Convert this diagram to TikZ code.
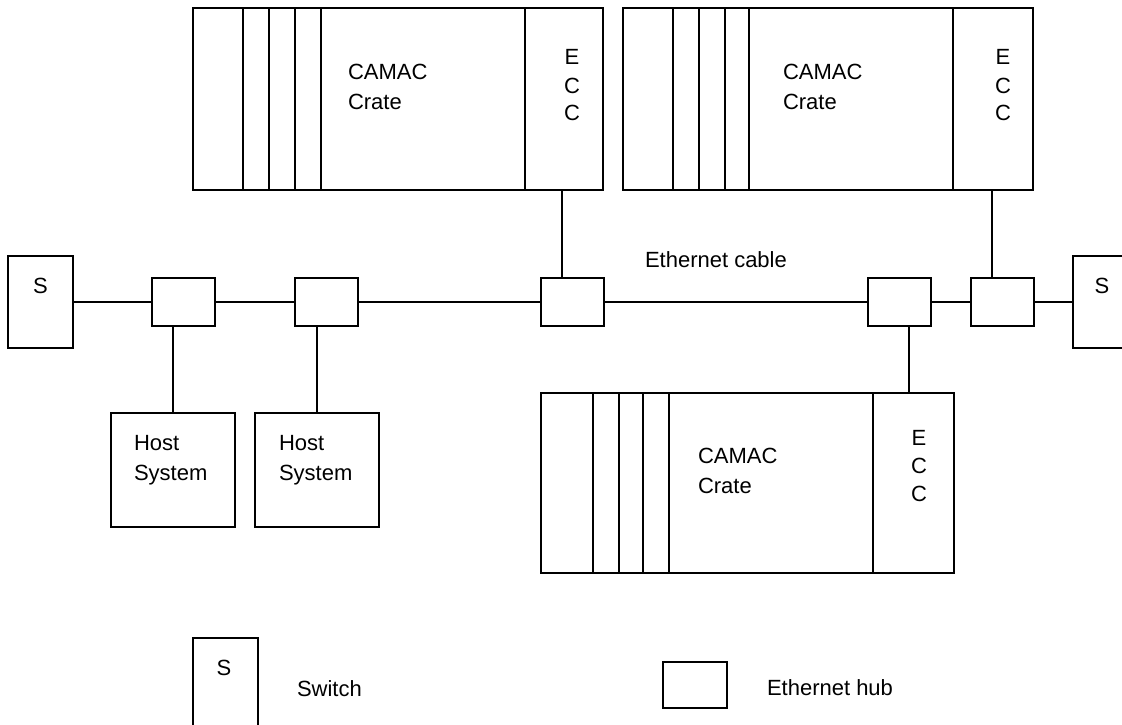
\documentclass[tikz,border=0pt]{standalone}
\usepackage{fontspec}
\setmainfont{Liberation Sans}
\begin{document}
\begin{tikzpicture}[x=1pt,y=-1pt,line width=2pt,
  base/.style={draw,rectangle,inner sep=0pt,outer sep=0pt},
  hubbox/.style={base,minimum width=63pt,minimum height=48pt},
  switchbox/.style={base,minimum width=65pt,minimum height=92pt},
  hostbox/.style={base,minimum width=124pt,minimum height=114pt},
  cratebox/.style={base,minimum width=#1,minimum height=182pt},
  lbl/.style={font=\fontsize{22}{26}\selectfont,inner sep=0pt,anchor=base west},
  lblc/.style={lbl,anchor=base}]
\useasboundingbox (0,0) rectangle (1122,725);

% crates
\node[cratebox=410pt] (c1) at (398,99) {};
\node[cratebox=410pt] (c2) at (828,99) {};
\node[cratebox=413pt,minimum height=180pt] (c3) at (747.5,483) {};
\foreach \d in {50,76,102,128,332}
  \draw ([xshift=\d pt]c1.north west) -- ([xshift=\d pt]c1.south west);
\foreach \d in {50,76,102,126,330}
  \draw ([xshift=\d pt]c2.north west) -- ([xshift=\d pt]c2.south west);
\foreach \d in {52,78,102,128,332}
  \draw ([xshift=\d pt]c3.north west) -- ([xshift=\d pt]c3.south west);

\node[lbl] (c1a) at (347,80) {CAMAC};
\node[lbl] (c1b) at (347,110) {Crate};
\node[lblc] (c1e) at (572,65) {E};
\node[lblc] (c1f) at (572,93) {C};
\node[lblc] (c1g) at (572,121) {C};

\node[lbl] (c2a) at (782,80) {CAMAC};
\node[lbl] (c2b) at (782,110) {Crate};
\node[lblc] (c2e) at (1003,65) {E};
\node[lblc] (c2f) at (1003,93) {C};
\node[lblc] (c2g) at (1003,121) {C};

\node[lbl] (c3a) at (697,463) {CAMAC};
\node[lbl] (c3b) at (697,493) {Crate};
\node[lblc] (c3e) at (919,445) {E};
\node[lblc] (c3f) at (919,473) {C};
\node[lblc] (c3g) at (919,501) {C};

% switches and hubs
\node[switchbox] (sl) at (40.5,302) {};
\node[lblc] (slt) at (40.5,293) {S};
\node[switchbox] (sr) at (1105.5,302) {};
\node[lblc] (srt) at (1102,293) {S};
\node[hubbox] (h1) at (183,302) {};
\node[hubbox] (h2) at (326,302) {};
\node[hubbox] (h3) at (572,302) {};
\node[hubbox] (h4) at (899,302) {};
\node[hubbox] (h5) at (1002.5,302) {};

\draw (sl.east) -- (h1.west);
\draw (h1.east) -- (h2.west);
\draw (h2.east) -- (h3.west);
\draw (h3.east) -- (h4.west);
\draw (h4.east) -- (h5.west);
\draw (h5.east) -- (sr.west);

\node[lbl] (cab) at (644,267) {Ethernet cable};

% hosts
\node[hostbox] (host1) at (173,470) {};
\node[hostbox] (host2) at (317,470) {};
\node[lbl] (ht1) at (133,450) {Host};
\node[lbl] (hs1) at (133,480) {System};
\node[lbl] (ht2) at (278,450) {Host};
\node[lbl] (hs2) at (278,480) {System};

\draw (host1.north) -- (host1.north |- h1.south);
\draw (host2.north) -- (host2.north |- h2.south);
\draw ([xshift=-10pt]h3.north) -- ([xshift=-10pt]h3.north |- c1.south);
\draw ([xshift=-11pt]h5.north) -- ([xshift=-11pt]h5.north |- c2.south);
\draw ([xshift=10pt]h4.south) -- ([xshift=10pt]h4.south |- c3.north);

% legend
\node[switchbox] (ls) at (225,684) {};
\node[lblc] (lst) at (224,675) {S};
\node[lbl] (lsw) at (296,696) {Switch};
\node[hubbox,minimum width=64pt,minimum height=46pt] (lh) at (695,685) {};
\node[lbl] (lht) at (766,695) {Ethernet hub};
\end{tikzpicture}
\end{document}
